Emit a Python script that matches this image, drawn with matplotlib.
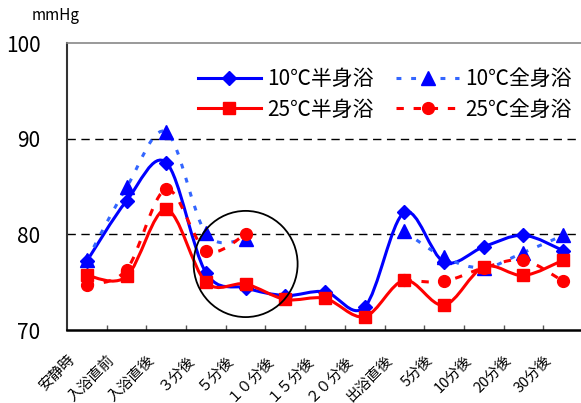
import numpy as np
import matplotlib
matplotlib.use('Agg')
import matplotlib.pyplot as plt
from matplotlib.path import Path
from matplotlib.patches import PathPatch, Ellipse
from matplotlib.lines import Line2D
from matplotlib.transforms import ScaledTranslation

plt.rcParams['font.family'] = ['Noto Sans CJK JP', 'DejaVu Sans']

categories = ['安静時', '入浴直前', '入浴直後', '３分後', '５分後', '１０分後', '１５分後',
              '２０分後', '出浴直後', '5分後', '10分後', '20分後', '30分後']

# blood pressure values (mmHg), NaN where not measured
half_10 = [77.2, 83.5, 87.5, 76.0, 74.4, 73.6, 74.0, 72.4, 82.3, 77.1, 78.7, 79.9, 78.3]
full_10 = [77.3, 84.9, 90.7, 80.1, 79.5, np.nan, np.nan, np.nan, 80.3, 77.6, 76.5, 78.1, 79.9]
half_25 = [75.7, 75.6, 82.6, 75.0, 74.8, 73.2, 73.3, 71.4, 75.2, 72.6, 76.6, 75.7, 77.3]
full_25 = [74.7, 76.3, 84.7, 78.3, 80.0, np.nan, np.nan, np.nan, 75.2, 75.1, 76.5, 77.3, 75.1]


def smooth_path(xs, ys):
    """Bezier path through the points, like Excel's smoothed line."""
    n = len(xs)
    verts = [(xs[0], ys[0])]
    codes = [Path.MOVETO]
    for i in range(n - 1):
        x0, y0 = xs[max(i - 1, 0)], ys[max(i - 1, 0)]
        x1, y1 = xs[i], ys[i]
        x2, y2 = xs[i + 1], ys[i + 1]
        x3, y3 = xs[min(i + 2, n - 1)], ys[min(i + 2, n - 1)]
        verts += [(x1 + (x2 - x0) / 6, y1 + (y2 - y0) / 6),
                  (x2 - (x3 - x1) / 6, y2 - (y3 - y1) / 6),
                  (x2, y2)]
        codes += [Path.CURVE4] * 3
    return Path(verts, codes)


def draw_series(ax, values, color, ls, marker, ms, mcolor, z):
    y = np.array(values, dtype=float)
    x = np.arange(len(y))
    ok = ~np.isnan(y)
    # split into runs of measured values
    start = None
    for i in range(len(y) + 1):
        if i < len(y) and ok[i]:
            if start is None:
                start = i
        elif start is not None:
            seg = slice(start, i)
            p = PathPatch(smooth_path(x[seg], y[seg]), fill=False, edgecolor=color,
                          lw=2.2, linestyle=ls, capstyle='butt', zorder=z)
            ax.add_patch(p)
            start = None
    ax.plot(x[ok], y[ok], linestyle='none', marker=marker, ms=ms, color=mcolor,
            mec=mcolor, zorder=z + 0.5)


fig = plt.figure(figsize=(5.81, 4.03), dpi=100)
ax = fig.add_axes([67 / 581, 73 / 403, 516 / 581, 287 / 403])
ax.set_xlim(-0.5, 12.5)
ax.set_ylim(70, 100)

blue = '#0000FF'
lblue = '#3366FF'
red = '#FF0000'
dot_b = (0, (1.6, 3.2))
dash_r = (0, (2.4, 3.2))

draw_series(ax, half_10, blue, '-', 'D', 7.5, blue, 3)
draw_series(ax, full_10, lblue, dot_b, '^', 10.5, blue, 4)
draw_series(ax, half_25, red, '-', 's', 8, red, 5)
draw_series(ax, full_25, red, dash_r, 'o', 8.5, red, 6)

# gridlines
for v in [80, 90]:
    ax.axhline(v, color='black', lw=1, ls=(0, (6, 4)), zorder=1)

# circle around the 5 min point
ax.add_patch(Ellipse((4, 76.9), 2.62, 11.1, fill=False, edgecolor='black', lw=1.3, zorder=8))

ax.spines['right'].set_visible(False)
ax.spines['top'].set_color('#888888')
ax.spines['top'].set_linewidth(1.2)
ax.spines['left'].set_color('#333333')
ax.spines['left'].set_linewidth(1.5)
ax.spines['bottom'].set_color('black')
ax.spines['bottom'].set_linewidth(1.8)

ax.set_yticks([70, 80, 90, 100])
ax.tick_params(axis='y', length=0, pad=19, labelsize=15)

ax.set_xticks(np.arange(len(categories)))
ax.set_xticklabels(categories, rotation=45, ha='right', va='center', rotation_mode='anchor',
                   fontsize=10.5)
ax.set_xticks(np.arange(0.5, 12, 1), minor=True)
ax.tick_params(axis='x', which='major', length=0, pad=20)
ax.tick_params(axis='x', which='minor', direction='in', length=3.5, width=1, color='#555555')
shift = ScaledTranslation(-14 / 100, 0, fig.dpi_scale_trans)
for lab in ax.get_xticklabels():
    lab.set_transform(lab.get_transform() + shift)

fig.text(32 / 581, 1 - 16 / 403, 'mmHg', fontsize=11, va='center')

handles = [
    Line2D([], [], color=blue, lw=2.2, marker='D', ms=7.5),
    Line2D([], [], color=red, lw=2.2, marker='s', ms=8),
    Line2D([], [], color=lblue, lw=2.2, ls=dot_b, marker='^', ms=10.5, mfc=blue, mec=blue),
    Line2D([], [], color=red, lw=2.2, ls=dash_r, marker='o', ms=8.5),
]
labels = ['10℃半身浴', '25℃半身浴', '10℃全身浴', '25℃全身浴']
ax.legend(handles, labels, ncol=2, loc='upper left', bbox_to_anchor=(198 / 581, 1 - 68 / 403),
          bbox_transform=fig.transFigure, frameon=False, fontsize=15, handlelength=3.0,
          handletextpad=0.3, columnspacing=1.1, labelspacing=0.42, borderpad=0, borderaxespad=0)

fig.savefig('out.png', dpi=100)
